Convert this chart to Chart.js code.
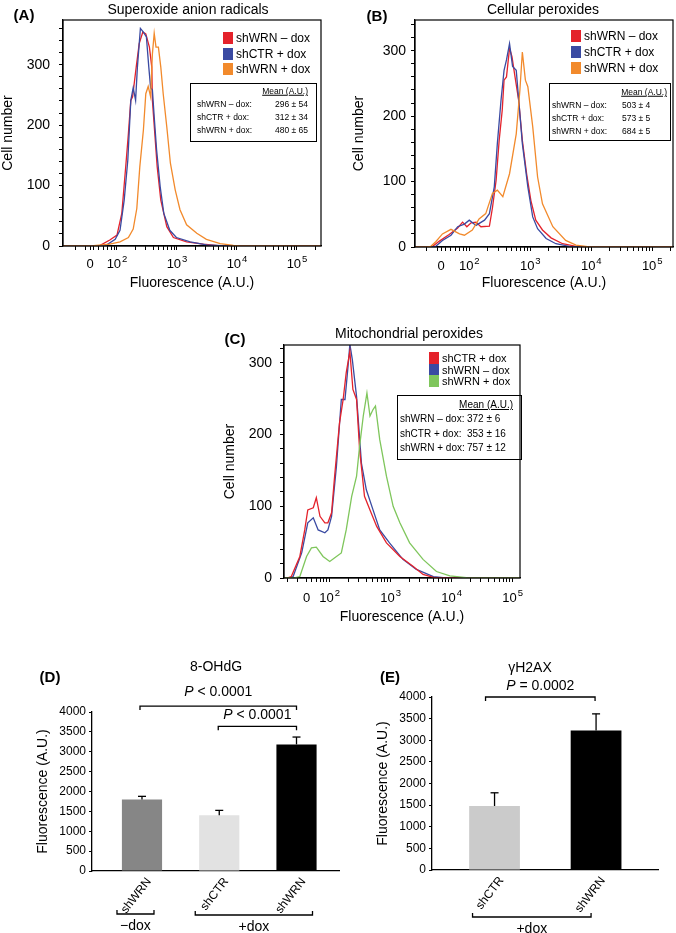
<!DOCTYPE html>
<html>
<head>
<meta charset="utf-8">
<script src="https://cdn.jsdelivr.net/npm/chart.js@4.4.1/dist/chart.umd.min.js"></script>
<style>
body { margin: 0; background: #fff; font-family: 'Liberation Sans', Arial, sans-serif; color: #000; }
#page { position: relative; width: 676px; height: 933px; overflow: hidden; background: #fff; }
canvas { position: absolute; }
.t { position: absolute; white-space: nowrap; line-height: 1; }
.r { position: absolute; box-sizing: border-box; }
</style>
</head>
<body>
<div id="page">
  <canvas id="chA" width="330" height="292" style="left:0;top:0"></canvas>
  <canvas id="chB" width="340" height="292" style="left:336px;top:0"></canvas>
  <canvas id="chC" width="330" height="326" style="left:200px;top:300px"></canvas>
  <canvas id="chD" width="340" height="293" style="left:0;top:640px"></canvas>
  <canvas id="chE" width="336" height="293" style="left:340px;top:640px"></canvas>
</div>
<script>
// histogram x values are in decade units of the flow axis (2 = 10^2, 3 = 10^3 ...)
const aWrnMinus = [[1.1,0],[1.6,0],[1.72,1],[1.88,10],[2.0,18],[2.08,54],[2.15,137],[2.19,186],[2.23,241],[2.26,247],[2.32,296],[2.37,335],[2.43,354],[2.48,351],[2.54,329],[2.58,296],[2.59,241],[2.63,186],[2.67,131],[2.73,76],[2.83,32],[2.94,14],[3.16,7],[3.44,3],[3.72,0],[5.45,0]];
const aCtrPlus = [[1.1,0],[1.7,0],[1.83,2],[1.97,11],[2.05,26],[2.12,76],[2.18,142],[2.23,241],[2.27,262],[2.31,241],[2.34,296],[2.39,360],[2.44,354],[2.49,346],[2.53,296],[2.56,262],[2.59,258],[2.62,214],[2.66,159],[2.72,98],[2.78,54],[2.88,26],[2.99,14],[3.22,7],[3.49,2],[3.83,0],[5.45,0]];
const aWrnPlus = [[1.1,0],[1.5,0],[1.61,0.5],[1.88,3],[2.05,7],[2.19,14],[2.27,28],[2.33,62],[2.38,131],[2.44,192],[2.48,252],[2.52,264],[2.56,247],[2.59,318],[2.62,352],[2.65,329],[2.69,329],[2.73,296],[2.77,252],[2.83,197],[2.89,137],[2.97,93],[3.05,60],[3.16,35],[3.33,21],[3.49,11],[3.72,4],[3.94,1],[4.05,0],[5.45,0]];

const bWrnMinus = [[1.1,0],[1.3,0],[1.40,1],[1.51,9],[1.67,19],[1.81,29],[1.89,38],[1.96,31],[2.03,37],[2.11,38],[2.19,31],[2.33,32],[2.38,60],[2.44,102],[2.49,163],[2.54,209],[2.57,255],[2.61,260],[2.66,304],[2.70,291],[2.75,260],[2.81,224],[2.87,163],[2.94,112],[3.01,71],[3.09,41],[3.20,26],[3.34,14],[3.53,5],[3.75,1],[3.91,0],[5.4,0]];
const bCtrPlus = [[1.1,0],[1.35,0],[1.45,1],[1.56,10],[1.70,18],[1.81,31],[1.92,35],[2.0,41],[2.11,33],[2.25,41],[2.33,51],[2.41,92],[2.46,158],[2.52,224],[2.57,270],[2.61,286],[2.66,311],[2.71,276],[2.77,270],[2.82,214],[2.87,158],[2.96,92],[3.04,46],[3.12,28],[3.26,13],[3.42,5],[3.64,1],[3.8,0],[5.4,0]];
const bWrnPlus = [[1.1,0],[1.3,0],[1.37,1],[1.45,8],[1.56,20],[1.70,27],[1.84,20],[1.92,18],[2.05,26],[2.16,43],[2.27,51],[2.38,82],[2.46,87],[2.55,77],[2.66,112],[2.77,173],[2.83,240],[2.87,298],[2.92,255],[2.96,245],[3.04,184],[3.12,107],[3.20,66],[3.37,31],[3.58,10],[3.75,3],[3.97,0],[5.4,0]];

const cCtrPlus = [[1.2,0],[1.3,0],[1.37,2],[1.51,30],[1.59,67],[1.64,95],[1.73,98],[1.78,112],[1.84,86],[1.92,77],[1.97,77],[2.03,91],[2.08,142],[2.16,216],[2.22,249],[2.27,286],[2.33,316],[2.38,263],[2.44,249],[2.49,179],[2.57,114],[2.66,95],[2.77,72],[2.93,49],[3.15,30],[3.37,16],[3.53,5],[3.7,1],[3.8,0],[5.2,0]];
const cWrnMinus = [[1.2,0],[1.32,0],[1.40,2],[1.54,35],[1.64,77],[1.73,84],[1.81,67],[1.92,63],[1.97,67],[2.03,86],[2.11,156],[2.19,249],[2.25,249],[2.30,295],[2.33,326],[2.37,305],[2.44,253],[2.52,160],[2.60,123],[2.71,95],[2.82,67],[2.98,49],[3.20,26],[3.42,12],[3.70,2],[3.9,0],[5.2,0]];
const cWrnPlus = [[1.2,0],[1.42,0],[1.51,2],[1.62,30],[1.70,42],[1.78,43],[1.89,30],[2.0,23],[2.11,30],[2.19,35],[2.27,67],[2.36,114],[2.44,142],[2.49,184],[2.55,226],[2.61,258],[2.66,226],[2.71,235],[2.75,240],[2.82,193],[2.93,142],[3.04,100],[3.15,77],[3.31,49],[3.53,26],[3.75,9],[3.97,3],[4.24,0.5],[4.4,0],[5.2,0]];

const meanRows = ['shWRN \u2013 dox:', 'shCTR + dox:', 'shWRN + dox:'];
const aMeans = [296, 312, 480], aSd = [54, 34, 65];
const bMeans = [503, 573, 684], bSd = [4, 5, 5];
const cMeans = [372, 353, 757], cSd = [6, 16, 12];

const ohdgLabels = ['shWRN', 'shCTR', 'shWRN'];
const ohdgMeans = [1800, 1405, 3185];
const ohdgErr = [78, 120, 185];
const h2axLabels = ['shCTR', 'shWRN'];
const h2axMeans = [1480, 3225];
const h2axErr = [305, 385];

Chart.defaults.font.family = "'Liberation Sans', Arial, sans-serif";
Chart.defaults.color = '#000';

const RED = '#e4222b', BLUE = '#3a4aa2', ORANGE = '#f28a2c', GREEN = '#7fc65c';
const FONT = "'Liberation Sans', Arial, sans-serif";

const page = document.getElementById('page');

function put(x, y, s, o = {}) {
    let d = document.createElement('div');
    d.className = 't';
    d.textContent = s;
    d.style.left = x + 'px';
    d.style.top = y + 'px';
    d.style.fontSize = (o.size || 14) + 'px';
    if (o.bold) d.style.fontWeight = 'bold';
    if (o.u) d.style.textDecoration = 'underline';
    let tx = o.align === 'l' ? '0' : (o.align === 'r' ? '-100%' : '-50%');
    d.style.transform = `translate(${tx}, -50%)`;
    page.appendChild(d);
}

function rect(x, y, w, h, css) {
    let d = document.createElement('div');
    d.className = 'r';
    d.style.left = x + 'px';
    d.style.top = y + 'px';
    d.style.width = w + 'px';
    d.style.height = h + 'px';
    Object.assign(d.style, css);
    page.appendChild(d);
}

function legend(x, y, dy, colors, names, size) {
    names.forEach((n, i) => {
        rect(x, y + i * dy - 6, 10, 12, { background: colors[i] });
        put(x + 13, y + i * dy, n, { align: 'l', size: size });
    });
}

// axis ticks for the flow histograms
function flowTicks(zero, min, max) {
    let t = [{ value: zero, base: '0', exp: '' }];
    for (let k = 2; k <= 9; k++) {
        let v = 1 + Math.log10(k);
        if (v > min && Math.abs(v - zero) > 0.03) t.push({ value: v });
    }
    for (let d = 2; d <= 5; d++) {
        t.push({ value: d, base: '10', exp: String(d) });
        for (let k = 2; k <= 9; k++) {
            let v = d + Math.log10(k);
            if (v < max) t.push({ value: v });
        }
    }
    return t.sort((a, b) => a.value - b.value);
}

// frame + decade labels with raised exponents
const flowAxis = {
    id: 'flowAxis',
    afterDraw(chart, args, o) {
        let a = chart.chartArea, ctx = chart.ctx, xs = chart.scales.x;
        ctx.save();
        ctx.strokeStyle = '#000';
        ctx.lineWidth = 1.2;
        ctx.strokeRect(a.left, a.top, a.right - a.left, a.bottom - a.top);
        ctx.fillStyle = '#000';
        ctx.textBaseline = 'middle';
        ctx.textAlign = 'left';
        o.ticks.filter(t => t.base).forEach(t => {
            let px = xs.getPixelForValue(t.value), ly = a.bottom + o.labelY;
            ctx.font = '13px ' + FONT;
            let wb = ctx.measureText(t.base).width;
            ctx.font = '9.5px ' + FONT;
            let we = t.exp ? ctx.measureText(t.exp).width + 1 : 0;
            let sx = px - (wb + we) / 2;
            ctx.font = '13px ' + FONT;
            ctx.fillText(t.base, sx, ly);
            if (t.exp) {
                ctx.font = '9.5px ' + FONT;
                ctx.fillText(t.exp, sx + wb + 1, ly - 5);
            }
        });
        ctx.restore();
    }
};

function histChart(id, o) {
    let ticks = flowTicks(o.zero, o.xMin, o.xMax);
    new Chart(document.getElementById(id), {
        type: 'line',
        data: {
            datasets: o.series.map(s => ({
                data: s[0].map(p => ({ x: p[0], y: p[1] })),
                borderColor: s[1],
                borderWidth: 1.3,
                pointRadius: 0,
                tension: 0,
                fill: false
            }))
        },
        options: {
            animation: false,
            responsive: false,
            layout: { padding: { top: o.top, right: o.right, left: 0, bottom: 0 } },
            plugins: { legend: { display: false }, tooltip: { enabled: false }, flowAxis: { ticks: ticks, labelY: o.labelY } },
            scales: {
                x: {
                    type: 'linear', min: o.xMin, max: o.xMax,
                    afterBuildTicks: s => { s.ticks = ticks.map(t => ({ value: t.value })); },
                    afterFit: s => { s.height = o.xH; },
                    grid: { display: true, drawOnChartArea: false, tickLength: 4, color: '#000' },
                    border: { display: true, color: '#000', width: 1.2 },
                    ticks: { autoSkip: false, maxRotation: 0, callback: () => '' },
                    title: { display: true, text: 'Fluorescence (A.U.)', font: { size: 14 }, padding: { top: 0, bottom: 0 } }
                },
                y: {
                    type: 'linear', min: 0, max: o.yMax,
                    afterBuildTicks: s => {
                        let t = [];
                        for (let v = 0; v <= o.yMax; v += 20) t.push({ value: v });
                        s.ticks = t;
                    },
                    afterFit: s => { s.width = o.yW; },
                    grid: { display: true, drawOnChartArea: false, tickLength: 4, color: '#000' },
                    border: { display: true, color: '#000', width: 1.2 },
                    ticks: { autoSkip: false, padding: o.yPad, font: { size: 14 }, callback: v => (v % 100 === 0 ? v : '') },
                    title: { display: true, text: 'Cell number', font: { size: 14 }, padding: { top: o.yTitlePad, bottom: 0 } }
                }
            }
        },
        plugins: [flowAxis]
    });
}

histChart('chA', {
    series: [[aWrnPlus, ORANGE], [aCtrPlus, BLUE], [aWrnMinus, RED]],
    zero: 1.55, xMin: 1.1, xMax: 5.4, yMax: 374,
    top: 20, right: 9, xH: 46, yW: 63, labelY: 18, yPad: 9, yTitlePad: 0
});
histChart('chB', {
    series: [[bWrnPlus, ORANGE], [bCtrPlus, BLUE], [bWrnMinus, RED]],
    zero: 1.54, xMin: 1.11, xMax: 5.34, yMax: 347,
    top: 20, right: 3, xH: 45, yW: 79, labelY: 19, yPad: 5, yTitlePad: 15
});
histChart('chC', {
    series: [[cWrnPlus, GREEN], [cCtrPlus, RED], [cWrnMinus, BLUE]],
    zero: 1.62, xMin: 1.25, xMax: 5.12, yMax: 325,
    top: 45, right: 10, xH: 48, yW: 84, labelY: 20, yPad: 8, yTitlePad: 22
});

// error whiskers and brackets for the bar panels
const barExtras = {
    id: 'barExtras',
    afterDatasetsDraw(chart, args, o) {
        let ctx = chart.ctx, xs = chart.scales.x, ys = chart.scales.y, a = chart.chartArea;
        let seg = (pts) => {
            ctx.beginPath();
            ctx.moveTo(pts[0][0], pts[0][1]);
            pts.slice(1).forEach(p => ctx.lineTo(p[0], p[1]));
            ctx.stroke();
        };
        ctx.save();
        ctx.strokeStyle = '#000';
        ctx.fillStyle = '#000';
        ctx.lineWidth = 1.3;
        o.means.forEach((m, i) => {
            let px = xs.getPixelForValue(i);
            let y0 = ys.getPixelForValue(m), y1 = ys.getPixelForValue(m + o.errs[i]);
            seg([[px, y0], [px, y1]]);
            seg([[px - 4, y1], [px + 4, y1]]);
        });
        ctx.textBaseline = 'middle';
        o.brackets.forEach(b => {
            let x0 = xs.getPixelForValue(b.from) + b.d0, x1 = xs.getPixelForValue(b.to) + b.d1;
            let by = ys.getPixelForValue(b.at);
            seg([[x0, by + 4], [x0, by], [x1, by], [x1, by + 4]]);
            ctx.font = 'italic 14px ' + FONT;
            let wP = ctx.measureText('P').width;
            ctx.font = '14px ' + FONT;
            let rest = ' ' + b.text;
            let w = wP + ctx.measureText(rest).width;
            let sx = (x0 + x1) / 2 - w / 2;
            ctx.textAlign = 'left';
            ctx.font = 'italic 14px ' + FONT;
            ctx.fillText('P', sx, by - b.lift);
            ctx.font = '14px ' + FONT;
            ctx.fillText(rest, sx + wP, by - b.lift);
        });
        o.groups.forEach(g => {
            let x0 = xs.getPixelForValue(g.from) + g.d0, x1 = xs.getPixelForValue(g.to) + g.d1;
            let gy = a.bottom + g.dy;
            seg([[x0, gy - 4], [x0, gy], [x1, gy], [x1, gy - 4]]);
            ctx.textAlign = 'center';
            ctx.font = '14px ' + FONT;
            ctx.fillText(g.text, (x0 + x1) / 2, gy + 12);
        });
        ctx.restore();
    }
};

function barChart(id, o) {
    new Chart(document.getElementById(id), {
        type: 'bar',
        data: {
            datasets: [{
                data: o.means.map((v, i) => ({ x: i, y: v })),
                backgroundColor: o.colors,
                borderWidth: 0,
                barPercentage: o.barPct,
                categoryPercentage: 1
            }]
        },
        options: {
            animation: false,
            responsive: false,
            layout: { padding: { top: o.top, right: o.right, left: 0, bottom: 0 } },
            plugins: {
                legend: { display: false },
                tooltip: { enabled: false },
                barExtras: { means: o.means, errs: o.errs, brackets: o.brackets, groups: o.groups }
            },
            scales: {
                x: {
                    type: 'linear', min: o.xMin, max: o.xMax, offset: false,
                    afterBuildTicks: s => { s.ticks = o.labels.map((l, i) => ({ value: i })); },
                    afterFit: s => { s.height = o.xH; },
                    grid: { display: false, offset: false },
                    border: { display: true, color: '#000', width: 1.3 },
                    ticks: { autoSkip: false, minRotation: 52, maxRotation: 52, padding: -4, labelOffset: 7, font: { size: 12 }, callback: v => o.labels[v] }
                },
                y: {
                    min: 0, max: 4000,
                    afterBuildTicks: s => {
                        let t = [];
                        for (let v = 0; v <= 4000; v += 500) t.push({ value: v });
                        s.ticks = t;
                    },
                    afterFit: s => { s.width = 92; },
                    grid: { display: true, drawOnChartArea: false, tickLength: 3, color: '#000' },
                    border: { display: true, color: '#000', width: 1.3 },
                    ticks: { autoSkip: false, padding: 3, font: { size: 12 }, callback: v => String(v) },
                    title: { display: true, text: 'Fluorescence (A.U.)', font: { size: 14 }, padding: { top: 35, bottom: 0 } }
                }
            }
        },
        plugins: [barExtras]
    });
}

barChart('chD', {
    labels: ohdgLabels, means: ohdgMeans, errs: ohdgErr,
    colors: ['#868686', '#e2e2e2', '#000000'],
    xMin: -0.647, xMax: 2.563, barPct: 0.52,
    top: 72, right: 0, xH: 62,
    brackets: [
        { from: 0, to: 2, at: 4150, d0: -2, d1: 0, lift: 14, text: '< 0.0001' },
        { from: 1, to: 2, at: 3640, d0: -1, d1: 0, lift: 11, text: '< 0.0001' }
    ],
    groups: [
        { from: 0, to: 0, d0: -25, d1: 12, dy: 43, text: '\u2212dox' },
        { from: 1, to: 2, d0: -24, d1: 16, dy: 44, text: '+dox' }
    ]
});

barChart('chE', {
    labels: h2axLabels, means: h2axMeans, errs: h2axErr,
    colors: ['#cbcbcb', '#000000'],
    xMin: -0.616, xMax: 1.61, barPct: 0.5,
    top: 57, right: 18, xH: 63,
    brackets: [
        { from: 0, to: 1, at: 4000, d0: -9, d1: -1, lift: 11, text: '= 0.0002' }
    ],
    groups: [
        { from: 0, to: 1, d0: -22, d1: -5, dy: 47, text: '+dox' }
    ]
});

// panel letters and titles
put(24, 14, '(A)', { bold: true, size: 15 });
put(188, 9, 'Superoxide anion radicals');
put(377, 15, '(B)', { bold: true, size: 15 });
put(543, 9, 'Cellular peroxides');
put(235, 338, '(C)', { bold: true, size: 15 });
put(409, 333, 'Mitochondrial peroxides');
put(50, 676, '(D)', { bold: true, size: 15 });
put(216, 666, '8-OHdG');
put(390, 676, '(E)', { bold: true, size: 15 });
put(530, 667, '\u03b3H2AX');

// legends
let names1 = ['shWRN \u2013 dox', 'shCTR + dox', 'shWRN + dox'];
legend(223, 38, 15.5, [RED, BLUE, ORANGE], names1, 12);
legend(571, 36, 16, [RED, BLUE, ORANGE], names1, 12);
legend(429, 358, 11.5, [RED, BLUE, GREEN], ['shCTR + dox', 'shWRN \u2013 dox', 'shWRN + dox'], 11);

// mean boxes
rect(190, 83, 127, 59, { border: '1.4px solid #000' });
put(308, 91, 'Mean (A.U.)', { align: 'r', size: 8.5, u: true });
meanRows.forEach((r, i) => {
    put(197, 104 + i * 13, r, { align: 'l', size: 8.5 });
    put(308, 104 + i * 13, aMeans[i] + ' \u00b1 ' + aSd[i], { align: 'r', size: 8.5 });
});

rect(549, 83, 122, 58, { border: '1.4px solid #000' });
put(667, 92, 'Mean (A.U.)', { align: 'r', size: 8.5, u: true });
meanRows.forEach((r, i) => {
    put(552, 105 + i * 13, r, { align: 'l', size: 8.5 });
    put(622, 105 + i * 13, bMeans[i] + ' \u00b1 ' + bSd[i], { align: 'l', size: 8.5 });
});

rect(397, 395, 125, 65, { border: '1.4px solid #000' });
put(513, 405, 'Mean (A.U.)', { align: 'r', size: 10, u: true });
meanRows.forEach((r, i) => {
    put(400, 419 + i * 14.5, r, { align: 'l', size: 10 });
    put(467, 419 + i * 14.5, cMeans[i] + ' \u00b1 ' + cSd[i], { align: 'l', size: 10 });
});
</script>
</body>
</html>
